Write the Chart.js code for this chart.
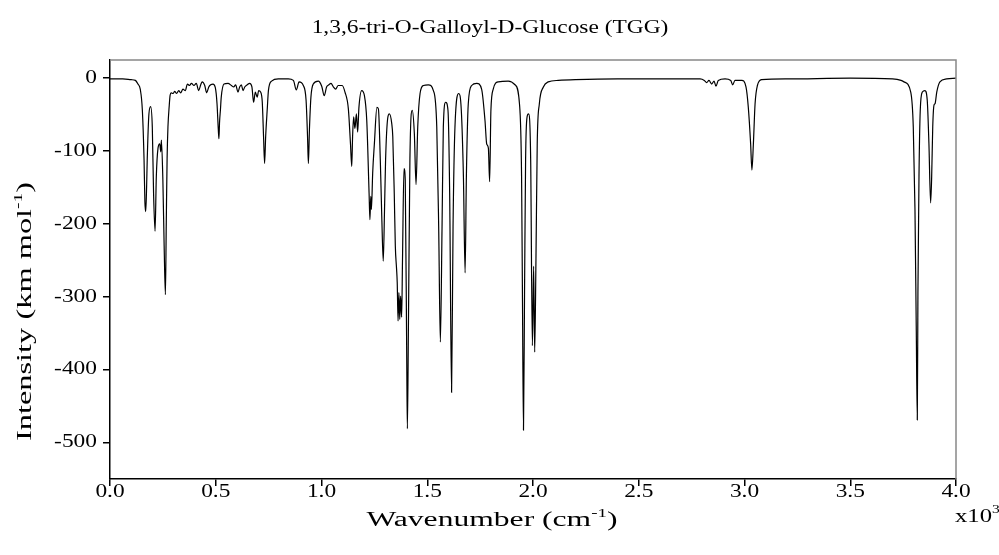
<!DOCTYPE html>
<html>
<head>
<meta charset="utf-8">
<script src="https://cdn.jsdelivr.net/npm/chart.js@4.4.0/dist/chart.umd.min.js"></script>
<style>
  html, body { margin: 0; padding: 0; background: #fff; }
  #wrap { width: 999px; height: 555px; }
</style>
</head>
<body>
<div id="wrap"><canvas id="spectrum" width="999" height="555"></canvas></div>
<script>
const chartTitle = "1,3,6-tri-O-Galloyl-D-Glucose (TGG)";

// wavenumber (cm-1) and intensity (km mol-1)
const wavenumbers = [
  0, 60, 100, 120, 132, 143, 153, 161, 165, 169, 173, 176, 184, 192, 200, 206, 213, 219,
  227, 235, 240, 243, 250, 256, 262, 266, 270, 274, 280, 284, 290, 298, 306, 315, 325, 334,
  345, 356, 366, 376, 385, 397, 408, 419, 429, 436, 448, 457, 467, 476, 487, 498, 506, 512,
  515, 518, 522, 526, 539, 558, 574, 585, 594, 605, 613, 621, 629, 637, 649, 660, 671, 679,
  687, 696, 703, 712, 720, 726, 731, 736, 744, 749, 764, 796, 843, 867, 881, 894, 914, 927,
  934, 938, 943, 950, 961, 985, 1001, 1013, 1024, 1035, 1045, 1056, 1067, 1079, 1098, 1111,
  1127, 1137, 1143, 1147, 1152, 1158, 1165, 1171, 1177, 1190, 1203, 1214, 1225, 1229, 1233,
  1236, 1242, 1250, 1262, 1269, 1278, 1285, 1292, 1298, 1303, 1313, 1321, 1332, 1337, 1344,
  1349, 1355, 1358, 1362, 1366, 1370, 1374, 1379, 1383, 1390, 1396, 1403, 1406, 1411, 1418,
  1429, 1439, 1447, 1455, 1466, 1482, 1505, 1529, 1545, 1554, 1562, 1570, 1576, 1587, 1598,
  1606, 1615, 1622, 1631, 1649, 1661, 1671, 1679, 1685, 1694, 1710, 1734, 1757, 1773, 1781,
  1789, 1795, 1801, 1812, 1836, 1883, 1915, 1936, 1946, 1950, 1955, 1960, 1965, 1972, 1979,
  1989, 1997, 2003, 2008, 2014, 2020, 2030, 2049, 2072, 2120, 2200, 2400, 2600, 2790, 2810,
  2821, 2832, 2845, 2856, 2865, 2876, 2908, 2935, 2944, 2955, 2987, 3007, 3018, 3029, 3035,
  3042, 3050, 3061, 3081, 3200, 3500, 3700, 3740, 3754, 3786, 3798, 3806, 3812, 3817, 3820,
  3825, 3831, 3841, 3853, 3864, 3872, 3880, 3885, 3890, 3896, 3901, 3909, 3924, 3956, 4000
];
const intensities = [
  -1, -1, -2, -3, -8, -15, -44, -112, -170, -183, -150, -112, -49, -39, -67, -158, -210, -135,
  -96, -90, -101, -85, -140, -230, -297, -200, -110, -67, -38, -24, -20, -21, -18, -21, -17, -20,
  -15, -17, -8, -10, -7, -10, -7, -17, -9, -5, -10, -20, -12, -9, -8, -13, -35, -70,
  -83, -60, -44, -26, -8, -7, -10, -12, -9, -19, -12, -9, -17, -12, -9, -7, -12, -33,
  -19, -26, -17, -19, -33, -80, -117, -80, -40, -17, -4, -1, -1, -3, -16, -5, -10, -30,
  -80, -117, -70, -26, -8, -4, -11, -24, -12, -9, -7, -12, -15, -10, -10, -19,
  -42, -90, -121, -80, -53, -69, -49, -74, -40, -17, -24, -58, -158, -194, -162,
  -180, -130, -90, -40, -42, -112, -190, -251, -180, -112, -55, -49, -62, -80, -158,
  -230, -262, -280, -333, -294, -331, -299, -328, -249, -124, -140, -385, -481, -340, -112,
  -44, -76, -146, -67, -21, -10, -9, -17, -67, -203, -362, -203, -67, -33, -44,
  -158, -431, -203, -67, -21, -44, -135, -267, -135, -35, -10, -7, -15, -58, -90,
  -96, -142, -44, -15, -5, -4, -9, -35, -135, -294, -483, -294, -112, -53, -49,
  -112, -367, -258, -376, -249, -90, -35, -12, -5, -3, -2, -1, -1, -1, -3,
  -6, -3, -8, -4, -11, -3, -1, -3, -9, -3, -3, -12, -40, -90, -126,
  -90, -35, -10, -2, -1, 0, -1, -3, -5, -19, -67, -180, -340, -469, -294,
  -135, -44, -19, -17, -30, -90, -171, -135, -67, -37, -35, -19, -5, -1, 0
];

const xTicks = [0, 500, 1000, 1500, 2000, 2500, 3000, 3500, 4000];
const yTicks = [0, -100, -200, -300, -400, -500];
const xMin = 0, xMax = 4000;
const yMin = -550, yMax = 25;

const serif = '"Liberation Serif", "Times New Roman", serif';

// draw text made of [string, isSuperscript] parts, widened along the reading direction
function drawParts(ctx, parts, x, y, size, align, widen, rotate) {
  ctx.save();
  ctx.translate(x, y);
  if (rotate) ctx.rotate(-Math.PI / 2);
  ctx.scale(widen, 1);
  ctx.fillStyle = "#000";
  ctx.textBaseline = "middle";
  ctx.textAlign = "left";
  let total = 0;
  parts.forEach(([t, sup]) => {
    ctx.font = (sup ? Math.round(size * 0.62) : size) + "px " + serif;
    total += ctx.measureText(t).width;
  });
  let cx = align === "center" ? -total / 2 : align === "right" ? -total : 0;
  parts.forEach(([t, sup]) => {
    ctx.font = (sup ? Math.round(size * 0.62) : size) + "px " + serif;
    ctx.fillText(t, cx, sup ? -size * 0.36 : 0);
    cx += ctx.measureText(t).width;
  });
  ctx.restore();
}

const textPlugin = {
  id: "textPlugin",
  afterDraw(chart) {
    const ctx = chart.ctx;
    const area = chart.chartArea;
    const xs = chart.scales.x;
    const ys = chart.scales.y;

    // top and right frame in grey
    ctx.save();
    ctx.strokeStyle = "#888";
    ctx.lineWidth = 1.5;
    ctx.beginPath();
    ctx.moveTo(area.left, area.top);
    ctx.lineTo(area.right, area.top);
    ctx.lineTo(area.right, area.bottom);
    ctx.stroke();
    ctx.restore();

    xs.ticks.forEach((t) => {
      drawParts(ctx, [[(t.value / 1000).toFixed(1), false]], xs.getPixelForValue(t.value), 492, 18, "center", 1.3);
    });
    ys.ticks.forEach((t) => {
      drawParts(ctx, [[String(t.value), false]], 97, ys.getPixelForValue(t.value), 18, "right", 1.3);
    });

    drawParts(ctx, [[chartTitle, false]], 490, 28, 18, "center", 1.3);
    drawParts(ctx, [["Wavenumber (cm", false], ["-1", true], [")", false]], 492, 521, 20, "center", 1.58);
    drawParts(ctx, [["x10", false], ["3", true]], 955, 517, 19, "left", 1.3);
    drawParts(ctx, [["Intensity (km mol", false], ["-1", true], [")", false]], 26, (area.top + area.bottom) / 2 + 42, 20, "center", 1.62, true);
  }
};

const ctx = document.getElementById("spectrum").getContext("2d");
const chart = new Chart(ctx, {
  type: "line",
  data: {
    datasets: [
      {
        data: wavenumbers.map((w, i) => ({ x: w, y: intensities[i] })),
        borderColor: "#000",
        borderWidth: 1.2,
        pointRadius: 0,
        cubicInterpolationMode: "monotone",
        fill: false,
      },
    ],
  },
  options: {
    responsive: false,
    animation: false,
    devicePixelRatio: 1,
    layout: { padding: { top: 60, right: 43, left: 0, bottom: 0 } },
    plugins: {
      legend: { display: false },
      tooltip: { enabled: false },
      title: { display: false },
    },
    scales: {
      x: {
        type: "linear",
        min: xMin,
        max: xMax,
        afterBuildTicks: (scale) => {
          scale.ticks = xTicks.map((v) => ({ value: v }));
        },
        afterFit: (scale) => {
          scale.height = 76;
        },
        ticks: { display: false },
        grid: { drawOnChartArea: false, drawTicks: true, tickLength: 7, color: "#000", lineWidth: 1.5 },
        border: { display: true, color: "#000", width: 1.5 },
      },
      y: {
        type: "linear",
        min: yMin,
        max: yMax,
        afterBuildTicks: (scale) => {
          scale.ticks = yTicks.map((v) => ({ value: v }));
        },
        afterFit: (scale) => {
          scale.width = 110;
        },
        ticks: { display: false },
        grid: { drawOnChartArea: false, drawTicks: true, tickLength: 7, color: "#000", lineWidth: 1.5 },
        border: { display: true, color: "#000", width: 1.5 },
      },
    },
  },
  plugins: [textPlugin],
});
</script>
</body>
</html>
